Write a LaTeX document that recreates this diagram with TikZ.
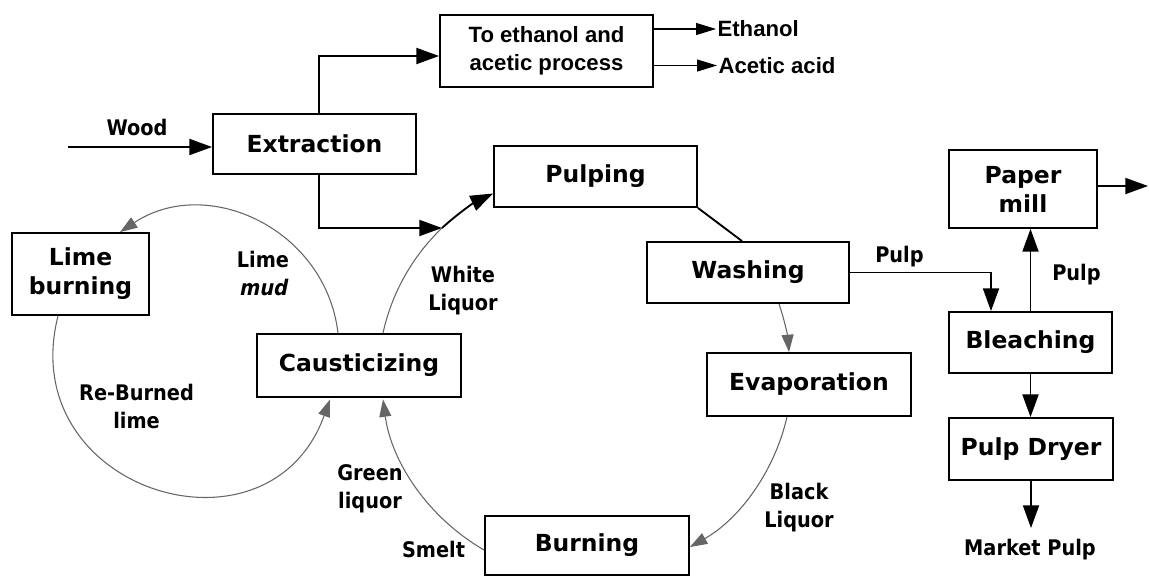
\documentclass[tikz,border=0pt]{standalone}
\usepackage{fontspec}
\setmainfont{DejaVu Sans}
\newfontfamily\labelfont{DejaVu Sans}[FakeStretch=0.9]
\newfontfamily\mudfont{DejaVu Sans}[FakeStretch=0.9, FakeSlant=0.2]
\newfontfamily\arialfont{Liberation Sans}
\usetikzlibrary{arrows.meta,calc}

\tikzset{
  stage/.style 2 args={draw, line width=1.4pt, inner sep=0pt,
    minimum width={#1*0.75pt}, minimum height={#2*0.75pt}, align=center,
    font=\fontsize{17.6}{21.75}\selectfont\bfseries},
  lbl/.style={align=center, inner sep=0pt,
    font=\labelfont\fontsize{16.1}{21}\selectfont\bfseries},
  product/.style={anchor=west, inner sep=1pt,
    font=\arialfont\fontsize{16.6}{21}\selectfont\bfseries},
  flow/.style={line width=1.4pt, -{Triangle[length=17pt,width=12pt]}},
  thin flow/.style={line width=0.8pt, -{Triangle[length=15pt,width=9pt]}},
  cycle line/.style={line width=0.8pt, draw=black!60},
  cycle flow/.style={cycle line, -{Triangle[length=13pt,width=9pt]}},
}

\begin{document}
\begin{tikzpicture}[x=0.75pt, y=-0.75pt]
\fill[white] (0,0) rectangle (1149,576);
\useasboundingbox (0,0) rectangle (1149,576);

% process stages
\node[stage={213}{72}, font=\arialfont\fontsize{16.6}{21}\selectfont\bfseries]
  (proc) at (546.5,51) {To ethanol and\\acetic process};
\node[stage={203}{60}] (ext)    at (314.5,144)   {Extraction};
\node[stage={203}{61}] (pulp)   at (595.5,176.5) {Pulping};
\node[stage={202}{61}] (wash)   at (748,272.5)   {Washing};
\node[stage={204}{63}] (evap)   at (809,384.5)   {Evaporation};
\node[stage={204}{59}] (burn)   at (587,545.5)   {Burning};
\node[stage={204}{63}] (caus)   at (359,365.5)   {Causticizing};
\node[stage={137}{82}] (lime)   at (80.5,274)    {Lime\\burning};
\node[stage={148}{78}] (paper)  at (1023,189)    {Paper\\mill};
\node[stage={163}{61}] (bleach) at (1030.5,342.5) {Bleaching};
\node[stage={164}{62}] (dryer)  at (1031,449)    {Pulp Dryer};

% products of the ethanol / acetic process
\node[product] (eth)  at (716,29)   {Ethanol};
\node[product] (acid) at (717,65.5) {Acetic acid};

% stream labels
\node[lbl] (lwood)   at (137,127.5)  {Wood};
\node[lbl] (lmud)    at (263,273.5)  {Lime\\{\mudfont mud}};
\node[lbl] (lwhite)  at (463,290.5)  {White\\Liquor};
\node[lbl] (lreb)    at (136.5,406)  {Re-Burned\\lime};
\node[lbl] (lgreen)  at (370,489)    {Green\\liquor};
\node[lbl] (lsmelt)  at (433.5,549.5) {Smelt};
\node[lbl] (lblack)  at (799,507.5)  {Black\\Liquor};
\node[lbl] (lpulp)   at (899.5,256.5) {Pulp};
\node[lbl] (lpulpup) at (1076.5,275) {Pulp};
\node[lbl] (lmarket) at (1030,550)   {Market Pulp};

% free ends
\coordinate (woodin)   at (68,147);
\coordinate (jn)       at (442,228);
\coordinate (paperout) at (1148,186);
\coordinate (mkt)      at (1031,528);

% main flows
\draw[flow] (woodin) -- (woodin -| ext.west);
\draw[flow] ($(ext.north)+(4.5,0)$) |- ($(proc.west)+(0,5)$);
\draw[flow] ($(ext.south)+(4.5,0)$) |- (jn);
\draw[thin flow] (proc.east |- eth.west) -- (eth.west);
\draw[thin flow] (proc.east |- acid.west) -- (acid.west);
\draw[line width=1.4pt] (pulp.south east) -- ($(wash.north)+(-6,0)$);
\draw[flow] (wash.east) -| ($(bleach.north)+(-39.5,0)$);
\draw[flow] (bleach.north) -- (bleach.north |- paper.south);
\draw[flow] ($(paper.east)+(0,-3)$) -- (paperout);
\draw[flow] (bleach.south) -- (bleach.south |- dryer.north);
\draw[flow] (dryer.south) -- (mkt);

% chemical recovery cycle
\draw[cycle line] ($(caus.north)+(24,0)$) to[bend left=17, looseness=0.87] (jn);
\draw[flow] (jn) to[bend left=8.6, looseness=0.86] ($(pulp.west)+(0,17)$);
\draw[cycle flow] ($(wash.south)+(31,0)$) to[bend left=7, looseness=0.86] ($(evap.north)+(-20,0)$);
\draw[cycle flow] ($(evap.south)+(-22,0)$) to[bend left=23.75, looseness=0.89] ($(burn.east)+(0,1.5)$);
\draw[cycle flow] ($(burn.west)+(0,4.5)$) to[bend left=26.2, looseness=0.9] ($(caus.south)+(24,1.5)$);

% lime cycle
\draw[cycle flow] ($(caus.north)+(-21,0)$) to[bend right=58.4, looseness=1.117] ($(lime.north)+(39.5,0)$);
\draw[cycle flow] ($(lime.south)+(-22.5,0)$) to[bend right=87.15, looseness=1.62] ($(caus.south)+(-29,1.5)$);
\end{tikzpicture}
\end{document}
